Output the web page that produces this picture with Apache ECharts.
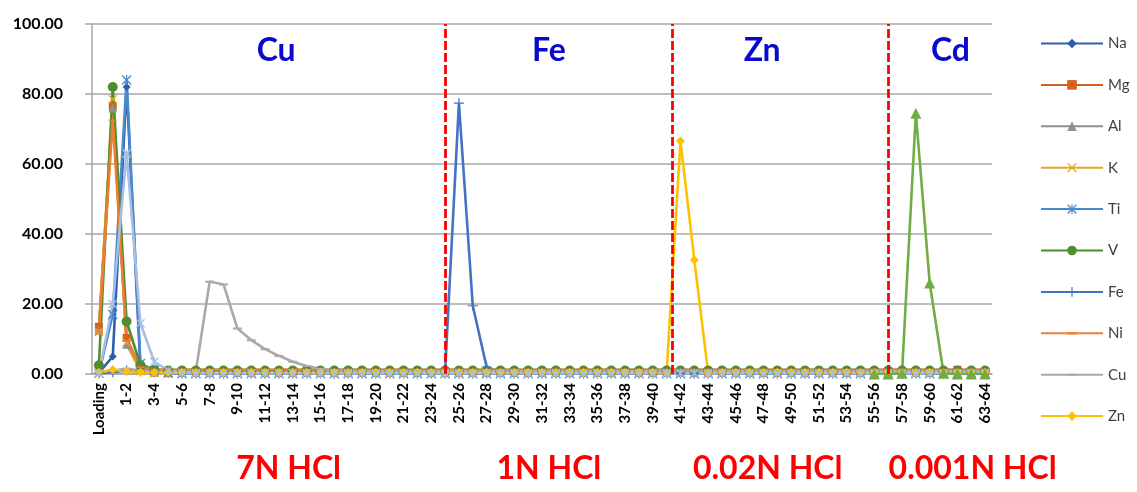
<!DOCTYPE html>
<html>
<head>
<meta charset="utf-8">
<script src="https://cdn.jsdelivr.net/npm/echarts@6/dist/echarts.min.js"></script>
<style>
  html, body { margin: 0; padding: 0; background: #ffffff; }
  #chart { width: 1137px; height: 492px; }
</style>
</head>
<body>
<div id="chart"></div>
<script>
// Elution fractions (mL) of the column, first entry is the loading solution
const categories = [
  'Loading','0-1','1-2','2-3','3-4','4-5','5-6','6-7','7-8','8-9',
  '9-10','10-11','11-12','12-13','13-14','14-15','15-16','16-17','17-18','18-19',
  '19-20','20-21','21-22','22-23','23-24','24-25','25-26','26-27','27-28','28-29',
  '29-30','30-31','31-32','32-33','33-34','34-35','35-36','36-37','37-38','38-39',
  '39-40','40-41','41-42','42-43','43-44','44-45','45-46','46-47','47-48','48-49',
  '49-50','50-51','51-52','52-53','53-54','54-55','55-56','56-57','57-58','58-59',
  '59-60','60-61','61-62','62-63','63-64'
];

// Recovered fraction (%) of each element per fraction
const Na = [
  0.3, 5.0, 82.0, 1.5, 0.5, 0.3, 0.3, 0.3, 0.3, 0.3,
  0.3, 0.3, 0.3, 0.3, 0.3, 0.3, 0.3, 0.3, 0.3, 0.3,
  0.3, 0.3, 0.3, 0.3, 0.3, 0.3, 0.3, 0.3, 0.3, 0.3,
  0.3, 0.3, 0.3, 0.3, 0.3, 0.3, 0.3, 0.3, 0.3, 0.3,
  0.3, 0.3, 0.3, 0.3, 0.3, 0.3, 0.3, 0.3, 0.3, 0.3,
  0.3, 0.3, 0.3, 0.3, 0.3, 0.3, 0.3, 0.3, 0.3, 0.3,
  0.3, 0.3, 0.3, 0.3, 0.3
];
const Mg = [
  13.5, 76.5, 10.3, 1.5, 0.8, 0.7, 0.7, 0.7, 0.7, 0.7,
  0.7, 0.7, 0.7, 0.7, 0.7, 0.7, 0.7, 0.7, 0.7, 0.7,
  0.7, 0.7, 0.7, 0.7, 0.7, 0.7, 0.7, 0.7, 0.7, 0.7,
  0.7, 0.7, 0.7, 0.7, 0.7, 0.7, 0.7, 0.7, 0.7, 0.7,
  0.7, 0.7, 0.7, 0.7, 0.7, 0.7, 0.7, 0.7, 0.7, 0.7,
  0.7, 0.7, 0.7, 0.7, 0.7, 0.7, 0.7, 0.7, 0.7, 0.7,
  0.7, 0.7, 1.2, 0.7, 0.7
];
const Al = [
  12.5, 76.0, 8.5, 1.0, 0.5, 0.4, 0.4, 0.4, 0.4, 0.4,
  0.4, 0.4, 0.4, 0.4, 0.4, 0.4, 0.4, 0.4, 0.4, 0.4,
  0.4, 0.4, 0.4, 0.4, 0.4, 0.4, 0.4, 0.4, 0.4, 0.4,
  0.4, 0.4, 0.4, 0.4, 0.4, 0.4, 0.4, 0.4, 0.4, 0.4,
  0.4, 0.4, 0.4, 0.4, 0.4, 0.4, 0.4, 0.4, 0.4, 0.4,
  0.4, 0.4, 0.4, 0.4, 0.4, 0.4, 0.4, 0.4, 0.4, 0.4,
  0.4, 0.4, 0.4, 0.4, 0.4
];
const K = [
  12.0, 78.5, 9.0, 0.8, 0.3, 0.2, 0.2, 0.2, 0.2, 0.2,
  0.2, 0.2, 0.2, 0.2, 0.2, 0.2, 0.2, 0.2, 0.2, 0.2,
  0.2, 0.2, 0.2, 0.2, 0.2, 0.2, 0.2, 0.2, 0.2, 0.2,
  0.2, 0.2, 0.2, 0.2, 0.2, 0.2, 0.2, 0.2, 0.2, 0.2,
  0.2, 0.2, 0.2, 0.2, 0.2, 0.2, 0.2, 0.2, 0.2, 0.2,
  0.2, 0.2, 0.2, 0.2, 0.2, 0.2, 0.2, 0.2, 0.2, 0.2,
  0.2, 0.2, 0.2, 0.2, 0.2
];
const Ti = [
  0.2, 17.0, 84.0, 3.0, 1.0, 0.3, 0.1, 0.1, 0.1, 0.1,
  0.1, 0.1, 0.1, 0.1, 0.1, 0.1, 0.1, 0.1, 0.1, 0.1,
  0.1, 0.1, 0.1, 0.1, 0.1, 0.1, 0.1, 0.1, 0.1, 0.1,
  0.1, 0.1, 0.1, 0.1, 0.1, 0.1, 0.1, 0.1, 0.1, 0.1,
  0.1, 0.1, 0.1, 0.1, 0.1, 0.1, 0.1, 0.1, 0.1, 0.1,
  0.1, 0.1, 0.1, 0.1, 0.1, 0.1, 0.1, 0.1, 0.1, 0.1,
  0.1, 0.1, 0.1, 0.1, 0.1
];
const V = [
  2.5, 82.0, 15.0, 2.5, 1.2, 1.0, 1.0, 1.0, 1.0, 1.0,
  1.0, 1.0, 1.0, 1.0, 1.0, 1.0, 1.0, 1.0, 1.0, 1.0,
  1.0, 1.0, 1.0, 1.0, 1.0, 1.0, 1.0, 1.0, 1.0, 1.0,
  1.0, 1.0, 1.0, 1.0, 1.0, 1.0, 1.0, 1.0, 1.0, 1.0,
  1.0, 1.0, 1.0, 1.0, 1.0, 1.0, 1.0, 1.0, 1.0, 1.0,
  1.0, 1.0, 1.0, 1.0, 1.0, 1.0, 1.0, 1.0, 1.0, 1.0,
  1.0, 1.0, 1.0, 1.0, 1.0
];
const Fe = [
  0.3, 0.5, 1.0, 0.8, 0.5, 0.5, 0.5, 0.5, 0.5, 0.5,
  0.5, 0.5, 0.5, 0.5, 0.5, 0.5, 0.5, 0.5, 0.5, 0.5,
  0.5, 0.5, 0.5, 0.5, 0.5, 0.5, 77.4, 19.5, 2.0, 0.5,
  0.5, 0.5, 0.5, 0.5, 0.5, 0.5, 0.5, 0.5, 0.5, 0.5,
  0.5, 0.5, 0.5, 0.5, 0.5, 0.5, 0.5, 0.5, 0.5, 0.5,
  0.5, 0.5, 0.5, 0.5, 0.5, 0.5, 0.5, 0.5, 0.5, 0.5,
  0.5, 0.5, 0.5, 0.5, 0.5
];
const Ni = [
  12.0, 72.5, 9.5, 2.0, 1.3, 1.3, 1.3, 1.3, 1.3, 1.3,
  1.3, 1.3, 1.3, 1.3, 1.3, 1.3, 1.3, 1.3, 1.3, 1.3,
  1.3, 1.3, 1.3, 1.3, 1.3, 1.3, 1.3, 1.3, 1.3, 1.3,
  1.3, 1.3, 1.3, 1.3, 1.3, 1.3, 1.3, 1.3, 1.3, 1.3,
  1.3, 1.3, 1.3, 1.3, 1.3, 1.3, 1.3, 1.3, 1.3, 1.3,
  1.3, 1.3, 1.3, 1.3, 1.3, 1.3, 1.3, 1.3, 1.3, 1.3,
  1.3, 1.3, 1.3, 1.3, 1.3
];
const Cu = [
  0.5, 1.0, 1.5, 1.0, 0.7, 0.7, 0.7, 0.8, 26.4, 25.6,
  13.0, 9.7, 7.1, 5.2, 3.5, 2.3, 1.5, 1.0, 0.8, 0.8,
  0.8, 0.8, 0.8, 0.8, 0.8, 0.8, 0.8, 0.8, 0.8, 0.8,
  0.8, 0.8, 0.8, 0.8, 0.8, 0.8, 0.8, 0.8, 0.8, 0.8,
  0.8, 0.8, 0.8, 0.8, 0.8, 0.8, 0.8, 0.8, 0.8, 0.8,
  0.8, 0.8, 0.8, 0.8, 0.8, 0.8, 0.8, 0.8, 0.8, 0.8,
  0.8, 0.8, 0.8, 0.8, 0.8
];
const Zn = [
  0.5, 1.2, 0.8, 0.5, 0.4, 0.4, 0.4, 0.4, 0.4, 0.4,
  0.4, 0.4, 0.4, 0.4, 0.4, 0.4, 0.4, 0.4, 0.4, 0.4,
  0.4, 0.4, 0.4, 0.4, 0.4, 0.4, 0.4, 0.4, 0.4, 0.4,
  0.4, 0.4, 0.4, 0.4, 0.4, 0.4, 0.4, 0.4, 0.4, 0.4,
  0.4, 0.3, 66.6, 32.6, 0.3, 0.4, 0.4, 0.4, 0.4, 0.4,
  0.4, 0.4, 0.4, 0.4, 0.4, 0.4, 0.4, 0.4, 0.4, 0.4,
  0.4, 0.4, 0.4, 0.4, 0.4
];
const Mn = [
  0.2, 20.0, 63.0, 14.5, 3.5, 1.0, 0.3, 0.2, 0.2, 0.2,
  0.2, 0.2, 0.2, 0.2, 0.2, 0.2, 0.2, 0.2, 0.2, 0.2,
  0.2, 0.2, 0.2, 0.2, 0.2, 0.2, 0.2, 0.2, 0.2, 0.2,
  0.2, 0.2, 0.2, 0.2, 0.2, 0.2, 0.2, 0.2, 0.2, 0.2,
  0.2, 0.2, 0.2, 0.2, 0.2, 0.2, 0.2, 0.2, 0.2, 0.2,
  0.2, 0.2, 0.2, 0.2, 0.2, 0.2, 0.2, 0.2, 0.2, 0.2,
  0.2, 0.2, 0.2, 0.2, 0.2
];
const Cd = [
  null, null, null, null, null, null, null, null, null, null,
  null, null, null, null, null, null, null, null, null, null,
  null, null, null, null, null, null, null, null, null, null,
  null, null, null, null, null, null, null, null, null, null,
  null, null, null, null, null, null, null, null, null, null,
  null, null, null, null, null, null, 0, 0, 0.2, 74.5,
  26.0, 0.2, 0, 0, 0
];

// Y axis ticks
const yTicks = [0, 20, 40, 60, 80, 100];

// Acid steps: boundaries on the fraction scale and their labels
const stepBoundaries = [25.5, 41.9, 57.5];
const elutedElements = ['Cu', 'Fe', 'Zn', 'Cd'];
const acidSteps = ['7N HCl', '1N HCl', '0.02N HCl', '0.001N HCl'];

// Marker shapes (the dash keeps a square bounding box so it stays flat in the legend)
const SYM_X = 'path://M0,1L1,0L5,4L9,0L10,1L6,5L10,9L9,10L5,6L1,10L0,9L4,5Z';
const SYM_STAR = 'path://M0,1L1,0L5,4L9,0L10,1L6,5L10,9L9,10L5,6L1,10L0,9L4,5Z M4.4,0L5.6,0L5.6,10L4.4,10Z';
const SYM_PLUS = 'path://M4.4,0L5.6,0L5.6,4.4L10,4.4L10,5.6L5.6,5.6L5.6,10L4.4,10L4.4,5.6L0,5.6L0,4.4L4.4,4.4Z';
const SYM_DASH = 'path://M0,0L0.01,0L0.01,0.01Z M0,4L10,4L10,6.2L0,6.2Z M0,10L0.01,10L0.01,9.99Z';

const FONT = 'Lato, "Open Sans", "Liberation Sans", sans-serif';

const seriesDefs = [
  { name: 'Na', data: Na, color: '#2E5EAA', symbol: 'diamond', size: 8 },
  { name: 'Mg', data: Mg, color: '#D4621C', symbol: 'rect', size: 8 },
  { name: 'Al', data: Al, color: '#8F8F8F', symbol: 'triangle', size: 9 },
  { name: 'K',  data: K,  color: '#E0AA22', symbol: SYM_X, size: 9 },
  { name: 'Ti', data: Ti, color: '#4A89CC', symbol: SYM_STAR, size: 10 },
  { name: 'V',  data: V,  color: '#4F8D2F', symbol: 'circle', size: 10 },
  { name: 'Fe', data: Fe, color: '#4472C4', symbol: SYM_PLUS, size: 10 },
  { name: 'Ni', data: Ni, color: '#ED7D31', symbol: SYM_DASH, size: 8 },
  { name: 'Cu', data: Cu, color: '#A9A9A9', symbol: SYM_DASH, size: 9 },
  { name: 'Zn', data: Zn, color: '#FFC000', symbol: 'diamond', size: 9 },
  { name: 'Mn', data: Mn, color: '#A9BEE4', symbol: SYM_STAR, size: 9 },
  { name: 'Cd', data: Cd, color: '#70AD47', symbol: 'triangle', size: 11 }
];

const legendNames = ['Na', 'Mg', 'Al', 'K', 'Ti', 'V', 'Fe', 'Ni', 'Cu', 'Zn'];

const series = seriesDefs.map(d => ({
  name: d.name,
  type: 'line',
  data: d.data,
  xAxisIndex: 0,
  yAxisIndex: 0,
  symbol: d.symbol,
  symbolSize: d.size,
  showSymbol: true,
  showAllSymbol: true,
  connectNulls: false,
  lineStyle: { color: d.color, width: 2.6 },
  itemStyle: { color: d.color, borderWidth: 0 },
  emphasis: { disabled: true }
}));

// Dashed red separators between acid steps, placed on a hidden linear fraction scale
series.push({
  name: 'steps',
  type: 'line',
  xAxisIndex: 1,
  yAxisIndex: 0,
  data: [],
  silent: true,
  markLine: {
    silent: true,
    symbol: ['none', 'none'],
    label: { show: false },
    lineStyle: { color: '#FF0000', type: [9, 3], width: 2.8 },
    data: stepBoundaries.map(v => ({ xAxis: v }))
  }
});

const chart = echarts.init(document.getElementById('chart'), null, { renderer: 'canvas' });

const gridLeft = 92, gridRight = 145, gridTop = 24, gridBottom = 118;

function buildGraphics() {
  const w = 1137 - gridLeft - gridRight;
  const unit = w / categories.length;
  const els = [];
  // Positions of the section captions, in fraction units
  const elemPos = [13.3, 33.0, 48.4, 62.0];
  const acidPos = [14.2, 33.0, 48.8, 63.6];
  elutedElements.forEach((t, i) => {
    els.push({
      type: 'text',
      x: gridLeft + elemPos[i] * unit,
      y: 51,
      style: {
        text: t, fill: '#0A0ACD', font: 'bold 32px ' + FONT,
        textAlign: 'center', textVerticalAlign: 'middle'
      },
      silent: true
    });
  });
  acidSteps.forEach((t, i) => {
    els.push({
      type: 'text',
      x: gridLeft + acidPos[i] * unit,
      y: 469,
      style: {
        text: t, fill: '#FF0000', font: 'bold 32px ' + FONT,
        textAlign: 'center', textVerticalAlign: 'middle'
      },
      silent: true
    });
  });
  return els;
}

chart.setOption({
  animation: false,
  backgroundColor: '#ffffff',
  grid: {
    left: gridLeft, right: gridRight, top: gridTop, bottom: gridBottom,
    containLabel: false, outerBoundsMode: 'none'
  },
  legend: {
    data: legendNames,
    orient: 'vertical',
    left: 1035,
    top: 31,
    itemWidth: 62,
    itemHeight: 12,
    itemGap: 26.4,
    selectedMode: false,
    textStyle: { fontFamily: FONT, fontSize: 15, color: '#404040' }
  },
  xAxis: [
    {
      type: 'category',
      data: categories,
      boundaryGap: true,
      axisLine: { show: true, lineStyle: { color: '#A6A6A6', width: 1.5 } },
      axisTick: { show: false },
      axisLabel: {
        interval: 1,
        rotate: 90,
        margin: 9,
        fontFamily: FONT,
        fontSize: 15,
        fontWeight: 'bold',
        color: '#000000'
      },
      splitLine: { show: false }
    },
    {
      type: 'value',
      min: 0,
      max: categories.length,
      show: false,
      splitLine: { show: false }
    }
  ],
  yAxis: {
    type: 'value',
    min: yTicks[0],
    max: yTicks[yTicks.length - 1],
    interval: yTicks[1] - yTicks[0],
    axisLine: { show: true, lineStyle: { color: '#A6A6A6', width: 1.5 } },
    axisTick: { show: true, length: 7, lineStyle: { color: '#A6A6A6', width: 1.5 } },
    axisLabel: {
      margin: 29,
      fontFamily: FONT,
      fontSize: 16,
      fontWeight: 'bold',
      color: '#000000',
      formatter: v => v.toFixed(2)
    },
    splitLine: { show: true, lineStyle: { color: '#A6A6A6', width: 1.5 } }
  },
  series: series,
  graphic: buildGraphics()
});
</script>
</body>
</html>
